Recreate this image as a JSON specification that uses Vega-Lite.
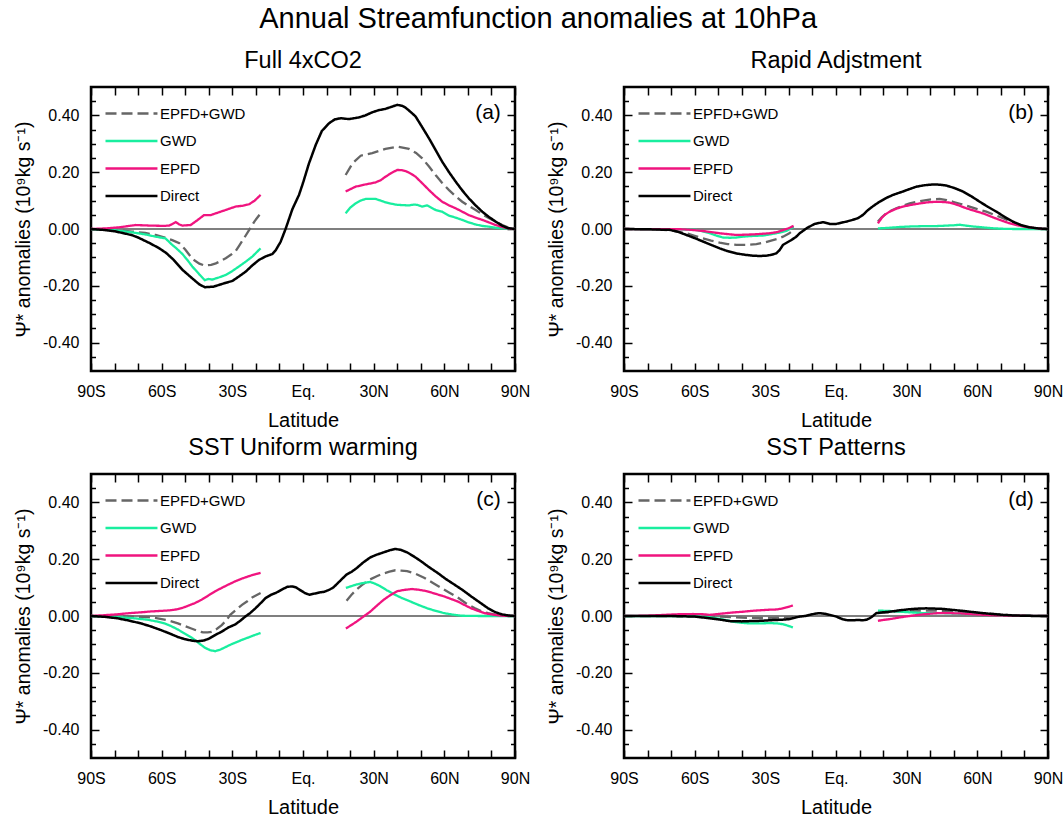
{
"$schema": "https://vega.github.io/schema/vega-lite/v6.json",
"padding": {"left": 12, "top": 4, "right": 5, "bottom": 5},
"title": {"text": "Annual Streamfunction anomalies at 10hPa", "fontSize": 29, "anchor": "middle", "offset": 14},
"columns": 2,
"spacing": {"row": 2, "column": 14},
"resolve": {"scale": {"x": "independent", "y": "independent", "color": "independent", "strokeDash": "independent"}, "legend": {"color": "independent", "strokeDash": "independent"}},
"config": {
  "font": "Liberation Sans",
  "view": {"stroke": "#000", "strokeWidth": 2.5},
  "axis": {"domain": false, "grid": false, "tickColor": "#000", "tickWidth": 1.5, "labelColor": "#000", "titleColor": "#000", "titleFontWeight": "normal", "labelFlush": false, "labelOverlap": false, "labelBound": false},
  "title": {"fontWeight": "normal", "color": "#000"},
  "legend": {"title": null, "orient": "top-left", "direction": "vertical", "columns": 1, "offset": 12.5, "padding": 0, "symbolType": "M-1,0H3.33", "symbolSize": 576, "symbolStrokeWidth": 2.3, "labelFontSize": 15, "labelOffset": 29, "rowPadding": 5.5, "labelColor": "#000"}
},
"datasets": {
"a": [
{"s":"Direct","h":"A","lat":-90,"v":0},{"s":"Direct","h":"A","lat":-85,"v":-0.003},{"s":"Direct","h":"A","lat":-80,"v":-0.008},{"s":"Direct","h":"A","lat":-75,"v":-0.017},{"s":"Direct","h":"A","lat":-72.5,"v":-0.022},{"s":"Direct","h":"A","lat":-70,"v":-0.03},{"s":"Direct","h":"A","lat":-65,"v":-0.05},{"s":"Direct","h":"A","lat":-61,"v":-0.068},{"s":"Direct","h":"A","lat":-58,"v":-0.085},{"s":"Direct","h":"A","lat":-55,"v":-0.108},{"s":"Direct","h":"A","lat":-51,"v":-0.145},{"s":"Direct","h":"A","lat":-47,"v":-0.174},{"s":"Direct","h":"A","lat":-44,"v":-0.195},{"s":"Direct","h":"A","lat":-41.7,"v":-0.205},{"s":"Direct","h":"A","lat":-38,"v":-0.203},{"s":"Direct","h":"A","lat":-35.7,"v":-0.197},{"s":"Direct","h":"A","lat":-33,"v":-0.19},{"s":"Direct","h":"A","lat":-30,"v":-0.183},{"s":"Direct","h":"A","lat":-27,"v":-0.166},{"s":"Direct","h":"A","lat":-24.3,"v":-0.15},{"s":"Direct","h":"A","lat":-21.5,"v":-0.128},{"s":"Direct","h":"A","lat":-18.7,"v":-0.109},{"s":"Direct","h":"A","lat":-16,"v":-0.097},{"s":"Direct","h":"A","lat":-13,"v":-0.088},{"s":"Direct","h":"A","lat":-11.6,"v":-0.075},{"s":"Direct","h":"A","lat":-9.5,"v":-0.045},{"s":"Direct","h":"A","lat":-7.4,"v":0},{"s":"Direct","h":"A","lat":-4.5,"v":0.07},{"s":"Direct","h":"A","lat":-1.7,"v":0.12},{"s":"Direct","h":"A","lat":0,"v":0.162},{"s":"Direct","h":"A","lat":2.5,"v":0.23},{"s":"Direct","h":"A","lat":5.4,"v":0.296},{"s":"Direct","h":"A","lat":8,"v":0.345},{"s":"Direct","h":"A","lat":11,"v":0.372},{"s":"Direct","h":"A","lat":13.5,"v":0.386},{"s":"Direct","h":"A","lat":16,"v":0.39},{"s":"Direct","h":"A","lat":19.5,"v":0.387},{"s":"Direct","h":"A","lat":23.8,"v":0.393},{"s":"Direct","h":"A","lat":26.5,"v":0.4},{"s":"Direct","h":"A","lat":29.4,"v":0.411},{"s":"Direct","h":"A","lat":32,"v":0.418},{"s":"Direct","h":"A","lat":35,"v":0.423},{"s":"Direct","h":"A","lat":37.5,"v":0.43},{"s":"Direct","h":"A","lat":40,"v":0.437},{"s":"Direct","h":"A","lat":42,"v":0.434},{"s":"Direct","h":"A","lat":43.6,"v":0.427},{"s":"Direct","h":"A","lat":46,"v":0.41},{"s":"Direct","h":"A","lat":47.8,"v":0.396},{"s":"Direct","h":"A","lat":50.5,"v":0.36},{"s":"Direct","h":"A","lat":53.5,"v":0.319},{"s":"Direct","h":"A","lat":56.3,"v":0.278},{"s":"Direct","h":"A","lat":59.1,"v":0.237},{"s":"Direct","h":"A","lat":62,"v":0.2},{"s":"Direct","h":"A","lat":64.8,"v":0.167},{"s":"Direct","h":"A","lat":67.6,"v":0.136},{"s":"Direct","h":"A","lat":70.4,"v":0.108},{"s":"Direct","h":"A","lat":73.3,"v":0.083},{"s":"Direct","h":"A","lat":76.1,"v":0.061},{"s":"Direct","h":"A","lat":79,"v":0.042},{"s":"Direct","h":"A","lat":81.8,"v":0.026},{"s":"Direct","h":"A","lat":84.5,"v":0.012},{"s":"Direct","h":"A","lat":87,"v":0.003},{"s":"Direct","h":"A","lat":90,"v":0},
{"s":"EPFD+GWD","h":"S","lat":-90,"v":0},{"s":"EPFD+GWD","h":"S","lat":-80,"v":-0.003},{"s":"EPFD+GWD","h":"S","lat":-72.5,"v":-0.009},{"s":"EPFD+GWD","h":"S","lat":-67,"v":-0.014},{"s":"EPFD+GWD","h":"S","lat":-62.6,"v":-0.021},{"s":"EPFD+GWD","h":"S","lat":-59,"v":-0.029},{"s":"EPFD+GWD","h":"S","lat":-55.5,"v":-0.039},{"s":"EPFD+GWD","h":"S","lat":-52.5,"v":-0.05},{"s":"EPFD+GWD","h":"S","lat":-50,"v":-0.072},{"s":"EPFD+GWD","h":"S","lat":-47,"v":-0.105},{"s":"EPFD+GWD","h":"S","lat":-44,"v":-0.122},{"s":"EPFD+GWD","h":"S","lat":-41.7,"v":-0.129},{"s":"EPFD+GWD","h":"S","lat":-39,"v":-0.126},{"s":"EPFD+GWD","h":"S","lat":-37,"v":-0.121},{"s":"EPFD+GWD","h":"S","lat":-35,"v":-0.113},{"s":"EPFD+GWD","h":"S","lat":-32.8,"v":-0.103},{"s":"EPFD+GWD","h":"S","lat":-30.5,"v":-0.09},{"s":"EPFD+GWD","h":"S","lat":-28.6,"v":-0.078},{"s":"EPFD+GWD","h":"S","lat":-27.2,"v":-0.06},{"s":"EPFD+GWD","h":"S","lat":-25,"v":-0.032},{"s":"EPFD+GWD","h":"S","lat":-22.9,"v":-0.004},{"s":"EPFD+GWD","h":"S","lat":-20.5,"v":0.028},{"s":"EPFD+GWD","h":"S","lat":-18,"v":0.055},
{"s":"EPFD+GWD","h":"N","lat":18.1,"v":0.19},{"s":"EPFD+GWD","h":"N","lat":21,"v":0.231},{"s":"EPFD+GWD","h":"N","lat":24.5,"v":0.258},{"s":"EPFD+GWD","h":"N","lat":29.4,"v":0.267},{"s":"EPFD+GWD","h":"N","lat":32,"v":0.274},{"s":"EPFD+GWD","h":"N","lat":35,"v":0.282},{"s":"EPFD+GWD","h":"N","lat":40,"v":0.29},{"s":"EPFD+GWD","h":"N","lat":45,"v":0.282},{"s":"EPFD+GWD","h":"N","lat":48,"v":0.268},{"s":"EPFD+GWD","h":"N","lat":50.6,"v":0.249},{"s":"EPFD+GWD","h":"N","lat":53.5,"v":0.22},{"s":"EPFD+GWD","h":"N","lat":56.3,"v":0.19},{"s":"EPFD+GWD","h":"N","lat":59,"v":0.163},{"s":"EPFD+GWD","h":"N","lat":62,"v":0.137},{"s":"EPFD+GWD","h":"N","lat":64.8,"v":0.115},{"s":"EPFD+GWD","h":"N","lat":67.6,"v":0.096},{"s":"EPFD+GWD","h":"N","lat":70.4,"v":0.081},{"s":"EPFD+GWD","h":"N","lat":73.3,"v":0.067},{"s":"EPFD+GWD","h":"N","lat":76,"v":0.052},{"s":"EPFD+GWD","h":"N","lat":79,"v":0.038},{"s":"EPFD+GWD","h":"N","lat":82,"v":0.025},{"s":"EPFD+GWD","h":"N","lat":84.6,"v":0.014},{"s":"EPFD+GWD","h":"N","lat":87,"v":0.006},{"s":"EPFD+GWD","h":"N","lat":90,"v":0},
{"s":"GWD","h":"S","lat":-90,"v":0},{"s":"GWD","h":"S","lat":-80,"v":-0.004},{"s":"GWD","h":"S","lat":-72.5,"v":-0.012},{"s":"GWD","h":"S","lat":-67,"v":-0.019},{"s":"GWD","h":"S","lat":-62.6,"v":-0.027},{"s":"GWD","h":"S","lat":-58.4,"v":-0.033},{"s":"GWD","h":"S","lat":-55.5,"v":-0.056},{"s":"GWD","h":"S","lat":-53.5,"v":-0.07},{"s":"GWD","h":"S","lat":-51.2,"v":-0.088},{"s":"GWD","h":"S","lat":-49,"v":-0.11},{"s":"GWD","h":"S","lat":-47,"v":-0.132},{"s":"GWD","h":"S","lat":-44,"v":-0.16},{"s":"GWD","h":"S","lat":-41.7,"v":-0.18},{"s":"GWD","h":"S","lat":-40,"v":-0.176},{"s":"GWD","h":"S","lat":-38.5,"v":-0.178},{"s":"GWD","h":"S","lat":-35.5,"v":-0.17},{"s":"GWD","h":"S","lat":-32.8,"v":-0.162},{"s":"GWD","h":"S","lat":-30,"v":-0.148},{"s":"GWD","h":"S","lat":-27.2,"v":-0.132},{"s":"GWD","h":"S","lat":-24.3,"v":-0.115},{"s":"GWD","h":"S","lat":-21.5,"v":-0.097},{"s":"GWD","h":"S","lat":-18,"v":-0.068},
{"s":"GWD","h":"N","lat":18.1,"v":0.055},{"s":"GWD","h":"N","lat":20,"v":0.075},{"s":"GWD","h":"N","lat":22.3,"v":0.09},{"s":"GWD","h":"N","lat":24.5,"v":0.1},{"s":"GWD","h":"N","lat":26.6,"v":0.106},{"s":"GWD","h":"N","lat":30.8,"v":0.106},{"s":"GWD","h":"N","lat":33,"v":0.1},{"s":"GWD","h":"N","lat":35,"v":0.094},{"s":"GWD","h":"N","lat":37.5,"v":0.089},{"s":"GWD","h":"N","lat":40,"v":0.085},{"s":"GWD","h":"N","lat":42.5,"v":0.084},{"s":"GWD","h":"N","lat":45,"v":0.083},{"s":"GWD","h":"N","lat":47,"v":0.086},{"s":"GWD","h":"N","lat":48.5,"v":0.085},{"s":"GWD","h":"N","lat":50.6,"v":0.079},{"s":"GWD","h":"N","lat":52.7,"v":0.083},{"s":"GWD","h":"N","lat":54.5,"v":0.075},{"s":"GWD","h":"N","lat":56.3,"v":0.067},{"s":"GWD","h":"N","lat":59.1,"v":0.061},{"s":"GWD","h":"N","lat":62,"v":0.047},{"s":"GWD","h":"N","lat":64.8,"v":0.04},{"s":"GWD","h":"N","lat":67.6,"v":0.032},{"s":"GWD","h":"N","lat":70.4,"v":0.023},{"s":"GWD","h":"N","lat":73.3,"v":0.016},{"s":"GWD","h":"N","lat":76,"v":0.011},{"s":"GWD","h":"N","lat":79,"v":0.008},{"s":"GWD","h":"N","lat":82,"v":0.004},{"s":"GWD","h":"N","lat":85,"v":0.002},{"s":"GWD","h":"N","lat":90,"v":0},
{"s":"EPFD","h":"S","lat":-90,"v":0},{"s":"EPFD","h":"S","lat":-84,"v":0.002},{"s":"EPFD","h":"S","lat":-78,"v":0.006},{"s":"EPFD","h":"S","lat":-71,"v":0.014},{"s":"EPFD","h":"S","lat":-65,"v":0.012},{"s":"EPFD","h":"S","lat":-59,"v":0.011},{"s":"EPFD","h":"S","lat":-56.8,"v":0.012},{"s":"EPFD","h":"S","lat":-54,"v":0.024},{"s":"EPFD","h":"S","lat":-52.5,"v":0.016},{"s":"EPFD","h":"S","lat":-51.2,"v":0.012},{"s":"EPFD","h":"S","lat":-47.7,"v":0.014},{"s":"EPFD","h":"S","lat":-45,"v":0.03},{"s":"EPFD","h":"S","lat":-42,"v":0.049},{"s":"EPFD","h":"S","lat":-39.2,"v":0.049},{"s":"EPFD","h":"S","lat":-36,"v":0.058},{"s":"EPFD","h":"S","lat":-32.8,"v":0.067},{"s":"EPFD","h":"S","lat":-28.6,"v":0.079},{"s":"EPFD","h":"S","lat":-25.5,"v":0.082},{"s":"EPFD","h":"S","lat":-22.9,"v":0.087},{"s":"EPFD","h":"S","lat":-20.5,"v":0.1},{"s":"EPFD","h":"S","lat":-18,"v":0.12},
{"s":"EPFD","h":"N","lat":18.1,"v":0.132},{"s":"EPFD","h":"N","lat":22.3,"v":0.149},{"s":"EPFD","h":"N","lat":26.6,"v":0.157},{"s":"EPFD","h":"N","lat":30.8,"v":0.164},{"s":"EPFD","h":"N","lat":33,"v":0.172},{"s":"EPFD","h":"N","lat":35,"v":0.184},{"s":"EPFD","h":"N","lat":37.5,"v":0.197},{"s":"EPFD","h":"N","lat":40,"v":0.208},{"s":"EPFD","h":"N","lat":42,"v":0.207},{"s":"EPFD","h":"N","lat":43.6,"v":0.204},{"s":"EPFD","h":"N","lat":46,"v":0.194},{"s":"EPFD","h":"N","lat":47.8,"v":0.184},{"s":"EPFD","h":"N","lat":50.5,"v":0.162},{"s":"EPFD","h":"N","lat":53.5,"v":0.137},{"s":"EPFD","h":"N","lat":56.3,"v":0.115},{"s":"EPFD","h":"N","lat":59.1,"v":0.096},{"s":"EPFD","h":"N","lat":62,"v":0.083},{"s":"EPFD","h":"N","lat":64.8,"v":0.073},{"s":"EPFD","h":"N","lat":67.6,"v":0.061},{"s":"EPFD","h":"N","lat":70.4,"v":0.049},{"s":"EPFD","h":"N","lat":73.3,"v":0.04},{"s":"EPFD","h":"N","lat":76.1,"v":0.032},{"s":"EPFD","h":"N","lat":79,"v":0.023},{"s":"EPFD","h":"N","lat":81.8,"v":0.014},{"s":"EPFD","h":"N","lat":85,"v":0.006},{"s":"EPFD","h":"N","lat":88,"v":0.001},{"s":"EPFD","h":"N","lat":90,"v":0}
],
"b": [
{"s":"Direct","h":"A","lat":-90,"v":0},{"s":"Direct","h":"A","lat":-80,"v":-0.001},{"s":"Direct","h":"A","lat":-70.6,"v":-0.003},{"s":"Direct","h":"A","lat":-67,"v":-0.01},{"s":"Direct","h":"A","lat":-63.5,"v":-0.021},{"s":"Direct","h":"A","lat":-60,"v":-0.032},{"s":"Direct","h":"A","lat":-56.5,"v":-0.044},{"s":"Direct","h":"A","lat":-53,"v":-0.056},{"s":"Direct","h":"A","lat":-49.4,"v":-0.068},{"s":"Direct","h":"A","lat":-46,"v":-0.078},{"s":"Direct","h":"A","lat":-42.3,"v":-0.086},{"s":"Direct","h":"A","lat":-38.5,"v":-0.091},{"s":"Direct","h":"A","lat":-35.2,"v":-0.094},{"s":"Direct","h":"A","lat":-32.4,"v":-0.095},{"s":"Direct","h":"A","lat":-29.6,"v":-0.094},{"s":"Direct","h":"A","lat":-27.5,"v":-0.091},{"s":"Direct","h":"A","lat":-25.4,"v":-0.086},{"s":"Direct","h":"A","lat":-24,"v":-0.075},{"s":"Direct","h":"A","lat":-22.5,"v":-0.056},{"s":"Direct","h":"A","lat":-19,"v":-0.039},{"s":"Direct","h":"A","lat":-17,"v":-0.028},{"s":"Direct","h":"A","lat":-15.4,"v":-0.015},{"s":"Direct","h":"A","lat":-12.6,"v":0.002},{"s":"Direct","h":"A","lat":-9.1,"v":0.018},{"s":"Direct","h":"A","lat":-5.5,"v":0.024},{"s":"Direct","h":"A","lat":-2.7,"v":0.018},{"s":"Direct","h":"A","lat":0.1,"v":0.018},{"s":"Direct","h":"A","lat":4.4,"v":0.026},{"s":"Direct","h":"A","lat":7,"v":0.032},{"s":"Direct","h":"A","lat":9.3,"v":0.038},{"s":"Direct","h":"A","lat":11.5,"v":0.05},{"s":"Direct","h":"A","lat":13.6,"v":0.067},{"s":"Direct","h":"A","lat":16,"v":0.082},{"s":"Direct","h":"A","lat":18.5,"v":0.096},{"s":"Direct","h":"A","lat":21.5,"v":0.11},{"s":"Direct","h":"A","lat":24.2,"v":0.12},{"s":"Direct","h":"A","lat":28.4,"v":0.132},{"s":"Direct","h":"A","lat":31,"v":0.14},{"s":"Direct","h":"A","lat":34.1,"v":0.149},{"s":"Direct","h":"A","lat":37.5,"v":0.154},{"s":"Direct","h":"A","lat":41.2,"v":0.157},{"s":"Direct","h":"A","lat":44,"v":0.156},{"s":"Direct","h":"A","lat":46.8,"v":0.153},{"s":"Direct","h":"A","lat":50,"v":0.145},{"s":"Direct","h":"A","lat":53.9,"v":0.132},{"s":"Direct","h":"A","lat":57.5,"v":0.115},{"s":"Direct","h":"A","lat":61,"v":0.096},{"s":"Direct","h":"A","lat":64.5,"v":0.078},{"s":"Direct","h":"A","lat":68.1,"v":0.061},{"s":"Direct","h":"A","lat":71.5,"v":0.043},{"s":"Direct","h":"A","lat":75.1,"v":0.026},{"s":"Direct","h":"A","lat":78.5,"v":0.014},{"s":"Direct","h":"A","lat":82.2,"v":0.006},{"s":"Direct","h":"A","lat":86,"v":0.002},{"s":"Direct","h":"A","lat":90,"v":0},
{"s":"EPFD+GWD","h":"S","lat":-90,"v":0},{"s":"EPFD+GWD","h":"S","lat":-75,"v":-0.002},{"s":"EPFD+GWD","h":"S","lat":-70,"v":-0.005},{"s":"EPFD+GWD","h":"S","lat":-63.5,"v":-0.015},{"s":"EPFD+GWD","h":"S","lat":-60,"v":-0.024},{"s":"EPFD+GWD","h":"S","lat":-56.5,"v":-0.033},{"s":"EPFD+GWD","h":"S","lat":-53,"v":-0.041},{"s":"EPFD+GWD","h":"S","lat":-49.4,"v":-0.048},{"s":"EPFD+GWD","h":"S","lat":-46,"v":-0.053},{"s":"EPFD+GWD","h":"S","lat":-42.3,"v":-0.056},{"s":"EPFD+GWD","h":"S","lat":-38,"v":-0.056},{"s":"EPFD+GWD","h":"S","lat":-33.8,"v":-0.053},{"s":"EPFD+GWD","h":"S","lat":-30,"v":-0.047},{"s":"EPFD+GWD","h":"S","lat":-26.8,"v":-0.039},{"s":"EPFD+GWD","h":"S","lat":-24.5,"v":-0.034},{"s":"EPFD+GWD","h":"S","lat":-22.5,"v":-0.027},{"s":"EPFD+GWD","h":"S","lat":-20,"v":-0.016},{"s":"EPFD+GWD","h":"S","lat":-18,"v":-0.004},
{"s":"EPFD+GWD","h":"N","lat":17.8,"v":0.026},{"s":"EPFD+GWD","h":"N","lat":19.5,"v":0.042},{"s":"EPFD+GWD","h":"N","lat":21.4,"v":0.055},{"s":"EPFD+GWD","h":"N","lat":23.5,"v":0.065},{"s":"EPFD+GWD","h":"N","lat":25.6,"v":0.073},{"s":"EPFD+GWD","h":"N","lat":28.5,"v":0.082},{"s":"EPFD+GWD","h":"N","lat":31.3,"v":0.09},{"s":"EPFD+GWD","h":"N","lat":34.8,"v":0.097},{"s":"EPFD+GWD","h":"N","lat":38.3,"v":0.102},{"s":"EPFD+GWD","h":"N","lat":41,"v":0.105},{"s":"EPFD+GWD","h":"N","lat":44,"v":0.106},{"s":"EPFD+GWD","h":"N","lat":47,"v":0.102},{"s":"EPFD+GWD","h":"N","lat":49.6,"v":0.096},{"s":"EPFD+GWD","h":"N","lat":53,"v":0.088},{"s":"EPFD+GWD","h":"N","lat":56.7,"v":0.079},{"s":"EPFD+GWD","h":"N","lat":60,"v":0.07},{"s":"EPFD+GWD","h":"N","lat":63.8,"v":0.061},{"s":"EPFD+GWD","h":"N","lat":67.5,"v":0.049},{"s":"EPFD+GWD","h":"N","lat":70.9,"v":0.038},{"s":"EPFD+GWD","h":"N","lat":74.5,"v":0.026},{"s":"EPFD+GWD","h":"N","lat":78,"v":0.014},{"s":"EPFD+GWD","h":"N","lat":81.5,"v":0.007},{"s":"EPFD+GWD","h":"N","lat":85,"v":0.002},{"s":"EPFD+GWD","h":"N","lat":90,"v":0},
{"s":"GWD","h":"S","lat":-90,"v":0},{"s":"GWD","h":"S","lat":-70,"v":-0.001},{"s":"GWD","h":"S","lat":-62,"v":-0.002},{"s":"GWD","h":"S","lat":-59.3,"v":-0.003},{"s":"GWD","h":"S","lat":-56,"v":-0.01},{"s":"GWD","h":"S","lat":-53.6,"v":-0.015},{"s":"GWD","h":"S","lat":-50.5,"v":-0.024},{"s":"GWD","h":"S","lat":-48,"v":-0.03},{"s":"GWD","h":"S","lat":-45,"v":-0.031},{"s":"GWD","h":"S","lat":-42.3,"v":-0.03},{"s":"GWD","h":"S","lat":-39.5,"v":-0.027},{"s":"GWD","h":"S","lat":-36.7,"v":-0.025},{"s":"GWD","h":"S","lat":-33.8,"v":-0.024},{"s":"GWD","h":"S","lat":-31,"v":-0.023},{"s":"GWD","h":"S","lat":-28,"v":-0.019},{"s":"GWD","h":"S","lat":-25.4,"v":-0.015},{"s":"GWD","h":"S","lat":-23,"v":-0.011},{"s":"GWD","h":"S","lat":-21.2,"v":-0.007},{"s":"GWD","h":"S","lat":-19.5,"v":0},{"s":"GWD","h":"S","lat":-18,"v":0.008},
{"s":"GWD","h":"N","lat":17.8,"v":0.002},{"s":"GWD","h":"N","lat":22,"v":0.004},{"s":"GWD","h":"N","lat":27,"v":0.007},{"s":"GWD","h":"N","lat":32,"v":0.009},{"s":"GWD","h":"N","lat":37,"v":0.01},{"s":"GWD","h":"N","lat":42,"v":0.01},{"s":"GWD","h":"N","lat":47,"v":0.012},{"s":"GWD","h":"N","lat":50,"v":0.013},{"s":"GWD","h":"N","lat":52.5,"v":0.015},{"s":"GWD","h":"N","lat":55,"v":0.012},{"s":"GWD","h":"N","lat":58,"v":0.009},{"s":"GWD","h":"N","lat":62,"v":0.006},{"s":"GWD","h":"N","lat":66,"v":0.003},{"s":"GWD","h":"N","lat":70,"v":0.001},{"s":"GWD","h":"N","lat":75,"v":0},{"s":"GWD","h":"N","lat":90,"v":0},
{"s":"EPFD","h":"S","lat":-90,"v":0},{"s":"EPFD","h":"S","lat":-65,"v":-0.001},{"s":"EPFD","h":"S","lat":-60,"v":-0.004},{"s":"EPFD","h":"S","lat":-56.5,"v":-0.007},{"s":"EPFD","h":"S","lat":-53,"v":-0.011},{"s":"EPFD","h":"S","lat":-49.4,"v":-0.015},{"s":"EPFD","h":"S","lat":-46,"v":-0.018},{"s":"EPFD","h":"S","lat":-42.3,"v":-0.021},{"s":"EPFD","h":"S","lat":-38.5,"v":-0.02},{"s":"EPFD","h":"S","lat":-35.2,"v":-0.019},{"s":"EPFD","h":"S","lat":-31.5,"v":-0.017},{"s":"EPFD","h":"S","lat":-28.2,"v":-0.015},{"s":"EPFD","h":"S","lat":-25,"v":-0.011},{"s":"EPFD","h":"S","lat":-22.5,"v":-0.004},{"s":"EPFD","h":"S","lat":-20,"v":0.003},{"s":"EPFD","h":"S","lat":-18,"v":0.011},
{"s":"EPFD","h":"N","lat":17.8,"v":0.02},{"s":"EPFD","h":"N","lat":19.5,"v":0.04},{"s":"EPFD","h":"N","lat":21,"v":0.052},{"s":"EPFD","h":"N","lat":22.8,"v":0.061},{"s":"EPFD","h":"N","lat":25.5,"v":0.071},{"s":"EPFD","h":"N","lat":28.4,"v":0.079},{"s":"EPFD","h":"N","lat":32,"v":0.085},{"s":"EPFD","h":"N","lat":35.5,"v":0.09},{"s":"EPFD","h":"N","lat":39,"v":0.094},{"s":"EPFD","h":"N","lat":42.6,"v":0.096},{"s":"EPFD","h":"N","lat":45.5,"v":0.095},{"s":"EPFD","h":"N","lat":48.3,"v":0.093},{"s":"EPFD","h":"N","lat":51.5,"v":0.085},{"s":"EPFD","h":"N","lat":55.3,"v":0.073},{"s":"EPFD","h":"N","lat":58.8,"v":0.064},{"s":"EPFD","h":"N","lat":62.4,"v":0.055},{"s":"EPFD","h":"N","lat":66,"v":0.043},{"s":"EPFD","h":"N","lat":69.5,"v":0.032},{"s":"EPFD","h":"N","lat":73,"v":0.022},{"s":"EPFD","h":"N","lat":76.6,"v":0.014},{"s":"EPFD","h":"N","lat":80,"v":0.008},{"s":"EPFD","h":"N","lat":83.6,"v":0.004},{"s":"EPFD","h":"N","lat":87,"v":0.001},{"s":"EPFD","h":"N","lat":90,"v":0}
],
"c": [
{"s":"Direct","h":"A","lat":-90,"v":0},{"s":"Direct","h":"A","lat":-84,"v":-0.003},{"s":"Direct","h":"A","lat":-78.8,"v":-0.008},{"s":"Direct","h":"A","lat":-74,"v":-0.016},{"s":"Direct","h":"A","lat":-68.8,"v":-0.026},{"s":"Direct","h":"A","lat":-64.5,"v":-0.037},{"s":"Direct","h":"A","lat":-60.2,"v":-0.05},{"s":"Direct","h":"A","lat":-56.5,"v":-0.062},{"s":"Direct","h":"A","lat":-53.1,"v":-0.074},{"s":"Direct","h":"A","lat":-50,"v":-0.082},{"s":"Direct","h":"A","lat":-47,"v":-0.087},{"s":"Direct","h":"A","lat":-44.5,"v":-0.089},{"s":"Direct","h":"A","lat":-42,"v":-0.086},{"s":"Direct","h":"A","lat":-40,"v":-0.08},{"s":"Direct","h":"A","lat":-37.3,"v":-0.067},{"s":"Direct","h":"A","lat":-34.5,"v":-0.055},{"s":"Direct","h":"A","lat":-31.6,"v":-0.04},{"s":"Direct","h":"A","lat":-28.8,"v":-0.03},{"s":"Direct","h":"A","lat":-26.5,"v":-0.016},{"s":"Direct","h":"A","lat":-24.5,"v":-0.002},{"s":"Direct","h":"A","lat":-22.5,"v":0.01},{"s":"Direct","h":"A","lat":-20.2,"v":0.027},{"s":"Direct","h":"A","lat":-18,"v":0.045},{"s":"Direct","h":"A","lat":-15.9,"v":0.063},{"s":"Direct","h":"A","lat":-13.5,"v":0.075},{"s":"Direct","h":"A","lat":-11.6,"v":0.081},{"s":"Direct","h":"A","lat":-9,"v":0.093},{"s":"Direct","h":"A","lat":-6.6,"v":0.103},{"s":"Direct","h":"A","lat":-4.5,"v":0.104},{"s":"Direct","h":"A","lat":-3,"v":0.101},{"s":"Direct","h":"A","lat":-1,"v":0.09},{"s":"Direct","h":"A","lat":1,"v":0.08},{"s":"Direct","h":"A","lat":2.7,"v":0.075},{"s":"Direct","h":"A","lat":5,"v":0.079},{"s":"Direct","h":"A","lat":7,"v":0.083},{"s":"Direct","h":"A","lat":9,"v":0.085},{"s":"Direct","h":"A","lat":11.3,"v":0.093},{"s":"Direct","h":"A","lat":12.8,"v":0.1},{"s":"Direct","h":"A","lat":14.2,"v":0.111},{"s":"Direct","h":"A","lat":16.5,"v":0.13},{"s":"Direct","h":"A","lat":18.5,"v":0.146},{"s":"Direct","h":"A","lat":20.5,"v":0.155},{"s":"Direct","h":"A","lat":22.7,"v":0.168},{"s":"Direct","h":"A","lat":25.5,"v":0.188},{"s":"Direct","h":"A","lat":28.5,"v":0.206},{"s":"Direct","h":"A","lat":31,"v":0.215},{"s":"Direct","h":"A","lat":34.2,"v":0.224},{"s":"Direct","h":"A","lat":37,"v":0.232},{"s":"Direct","h":"A","lat":39.2,"v":0.236},{"s":"Direct","h":"A","lat":41.5,"v":0.233},{"s":"Direct","h":"A","lat":44.2,"v":0.224},{"s":"Direct","h":"A","lat":47,"v":0.21},{"s":"Direct","h":"A","lat":49.9,"v":0.194},{"s":"Direct","h":"A","lat":53.5,"v":0.172},{"s":"Direct","h":"A","lat":57.1,"v":0.152},{"s":"Direct","h":"A","lat":60.5,"v":0.131},{"s":"Direct","h":"A","lat":64.2,"v":0.111},{"s":"Direct","h":"A","lat":68,"v":0.09},{"s":"Direct","h":"A","lat":71.4,"v":0.069},{"s":"Direct","h":"A","lat":75,"v":0.048},{"s":"Direct","h":"A","lat":78.6,"v":0.027},{"s":"Direct","h":"A","lat":81.5,"v":0.014},{"s":"Direct","h":"A","lat":84.3,"v":0.006},{"s":"Direct","h":"A","lat":87,"v":0.002},{"s":"Direct","h":"A","lat":90,"v":0},
{"s":"EPFD+GWD","h":"S","lat":-90,"v":0},{"s":"EPFD+GWD","h":"S","lat":-80,"v":-0.001},{"s":"EPFD+GWD","h":"S","lat":-71.7,"v":-0.002},{"s":"EPFD+GWD","h":"S","lat":-66,"v":-0.004},{"s":"EPFD+GWD","h":"S","lat":-61.7,"v":-0.008},{"s":"EPFD+GWD","h":"S","lat":-57,"v":-0.016},{"s":"EPFD+GWD","h":"S","lat":-53.1,"v":-0.026},{"s":"EPFD+GWD","h":"S","lat":-50,"v":-0.036},{"s":"EPFD+GWD","h":"S","lat":-47.4,"v":-0.044},{"s":"EPFD+GWD","h":"S","lat":-44.5,"v":-0.053},{"s":"EPFD+GWD","h":"S","lat":-42.4,"v":-0.058},{"s":"EPFD+GWD","h":"S","lat":-40.5,"v":-0.058},{"s":"EPFD+GWD","h":"S","lat":-38.8,"v":-0.056},{"s":"EPFD+GWD","h":"S","lat":-36.5,"v":-0.045},{"s":"EPFD+GWD","h":"S","lat":-34.5,"v":-0.032},{"s":"EPFD+GWD","h":"S","lat":-32.5,"v":-0.015},{"s":"EPFD+GWD","h":"S","lat":-30.9,"v":0.004},{"s":"EPFD+GWD","h":"S","lat":-28.5,"v":0.021},{"s":"EPFD+GWD","h":"S","lat":-25.9,"v":0.039},{"s":"EPFD+GWD","h":"S","lat":-23.5,"v":0.053},{"s":"EPFD+GWD","h":"S","lat":-21.6,"v":0.065},{"s":"EPFD+GWD","h":"S","lat":-19.8,"v":0.073},{"s":"EPFD+GWD","h":"S","lat":-18,"v":0.081},
{"s":"EPFD+GWD","h":"N","lat":18.5,"v":0.054},{"s":"EPFD+GWD","h":"N","lat":20.5,"v":0.074},{"s":"EPFD+GWD","h":"N","lat":22.7,"v":0.093},{"s":"EPFD+GWD","h":"N","lat":25.5,"v":0.112},{"s":"EPFD+GWD","h":"N","lat":28.5,"v":0.129},{"s":"EPFD+GWD","h":"N","lat":31.3,"v":0.14},{"s":"EPFD+GWD","h":"N","lat":34.2,"v":0.15},{"s":"EPFD+GWD","h":"N","lat":36.7,"v":0.156},{"s":"EPFD+GWD","h":"N","lat":39.2,"v":0.161},{"s":"EPFD+GWD","h":"N","lat":41.7,"v":0.16},{"s":"EPFD+GWD","h":"N","lat":44.2,"v":0.158},{"s":"EPFD+GWD","h":"N","lat":47.5,"v":0.15},{"s":"EPFD+GWD","h":"N","lat":51.4,"v":0.135},{"s":"EPFD+GWD","h":"N","lat":55,"v":0.117},{"s":"EPFD+GWD","h":"N","lat":58.5,"v":0.1},{"s":"EPFD+GWD","h":"N","lat":62,"v":0.083},{"s":"EPFD+GWD","h":"N","lat":65.7,"v":0.065},{"s":"EPFD+GWD","h":"N","lat":69,"v":0.046},{"s":"EPFD+GWD","h":"N","lat":72.8,"v":0.028},{"s":"EPFD+GWD","h":"N","lat":76,"v":0.016},{"s":"EPFD+GWD","h":"N","lat":78.6,"v":0.01},{"s":"EPFD+GWD","h":"N","lat":81.5,"v":0.005},{"s":"EPFD+GWD","h":"N","lat":84.3,"v":0.001},{"s":"EPFD+GWD","h":"N","lat":90,"v":0},
{"s":"GWD","h":"S","lat":-90,"v":0},{"s":"GWD","h":"S","lat":-80,"v":-0.003},{"s":"GWD","h":"S","lat":-71.7,"v":-0.008},{"s":"GWD","h":"S","lat":-66,"v":-0.013},{"s":"GWD","h":"S","lat":-61.7,"v":-0.02},{"s":"GWD","h":"S","lat":-58.5,"v":-0.027},{"s":"GWD","h":"S","lat":-55.9,"v":-0.036},{"s":"GWD","h":"S","lat":-53,"v":-0.048},{"s":"GWD","h":"S","lat":-50.2,"v":-0.062},{"s":"GWD","h":"S","lat":-48.5,"v":-0.07},{"s":"GWD","h":"S","lat":-46.6,"v":-0.08},{"s":"GWD","h":"S","lat":-44,"v":-0.097},{"s":"GWD","h":"S","lat":-41.6,"v":-0.112},{"s":"GWD","h":"S","lat":-39.5,"v":-0.12},{"s":"GWD","h":"S","lat":-37.3,"v":-0.124},{"s":"GWD","h":"S","lat":-35,"v":-0.118},{"s":"GWD","h":"S","lat":-33,"v":-0.11},{"s":"GWD","h":"S","lat":-31.6,"v":-0.104},{"s":"GWD","h":"S","lat":-28.8,"v":-0.094},{"s":"GWD","h":"S","lat":-25.9,"v":-0.084},{"s":"GWD","h":"S","lat":-23,"v":-0.075},{"s":"GWD","h":"S","lat":-20.5,"v":-0.067},{"s":"GWD","h":"S","lat":-18,"v":-0.06},
{"s":"GWD","h":"N","lat":18.2,"v":0.099},{"s":"GWD","h":"N","lat":20.5,"v":0.105},{"s":"GWD","h":"N","lat":22.7,"v":0.111},{"s":"GWD","h":"N","lat":25.5,"v":0.116},{"s":"GWD","h":"N","lat":28.5,"v":0.12},{"s":"GWD","h":"N","lat":30.5,"v":0.114},{"s":"GWD","h":"N","lat":32.8,"v":0.105},{"s":"GWD","h":"N","lat":35.5,"v":0.091},{"s":"GWD","h":"N","lat":38.5,"v":0.077},{"s":"GWD","h":"N","lat":42,"v":0.063},{"s":"GWD","h":"N","lat":45.6,"v":0.051},{"s":"GWD","h":"N","lat":49,"v":0.039},{"s":"GWD","h":"N","lat":52.8,"v":0.027},{"s":"GWD","h":"N","lat":56.3,"v":0.018},{"s":"GWD","h":"N","lat":59.9,"v":0.01},{"s":"GWD","h":"N","lat":63.5,"v":0.005},{"s":"GWD","h":"N","lat":67.1,"v":0.001},{"s":"GWD","h":"N","lat":75,"v":0},{"s":"GWD","h":"N","lat":90,"v":0},
{"s":"EPFD","h":"S","lat":-90,"v":0},{"s":"EPFD","h":"S","lat":-84,"v":0.003},{"s":"EPFD","h":"S","lat":-78.8,"v":0.006},{"s":"EPFD","h":"S","lat":-73.8,"v":0.01},{"s":"EPFD","h":"S","lat":-68.8,"v":0.013},{"s":"EPFD","h":"S","lat":-64.5,"v":0.016},{"s":"EPFD","h":"S","lat":-60.2,"v":0.018},{"s":"EPFD","h":"S","lat":-56.5,"v":0.02},{"s":"EPFD","h":"S","lat":-53.1,"v":0.024},{"s":"EPFD","h":"S","lat":-51,"v":0.029},{"s":"EPFD","h":"S","lat":-48.8,"v":0.036},{"s":"EPFD","h":"S","lat":-46,"v":0.045},{"s":"EPFD","h":"S","lat":-43.1,"v":0.057},{"s":"EPFD","h":"S","lat":-40.2,"v":0.072},{"s":"EPFD","h":"S","lat":-37.3,"v":0.087},{"s":"EPFD","h":"S","lat":-34.5,"v":0.099},{"s":"EPFD","h":"S","lat":-31.6,"v":0.111},{"s":"EPFD","h":"S","lat":-28.8,"v":0.122},{"s":"EPFD","h":"S","lat":-25.9,"v":0.132},{"s":"EPFD","h":"S","lat":-23.7,"v":0.138},{"s":"EPFD","h":"S","lat":-21.6,"v":0.144},{"s":"EPFD","h":"S","lat":-19.8,"v":0.148},{"s":"EPFD","h":"S","lat":-18,"v":0.152},
{"s":"EPFD","h":"N","lat":18.2,"v":-0.044},{"s":"EPFD","h":"N","lat":20.5,"v":-0.032},{"s":"EPFD","h":"N","lat":22.7,"v":-0.02},{"s":"EPFD","h":"N","lat":25.5,"v":-0.003},{"s":"EPFD","h":"N","lat":28.5,"v":0.015},{"s":"EPFD","h":"N","lat":31.3,"v":0.036},{"s":"EPFD","h":"N","lat":34.2,"v":0.057},{"s":"EPFD","h":"N","lat":37,"v":0.073},{"s":"EPFD","h":"N","lat":39.9,"v":0.087},{"s":"EPFD","h":"N","lat":43,"v":0.092},{"s":"EPFD","h":"N","lat":46.4,"v":0.095},{"s":"EPFD","h":"N","lat":49.5,"v":0.092},{"s":"EPFD","h":"N","lat":52.8,"v":0.087},{"s":"EPFD","h":"N","lat":56.3,"v":0.078},{"s":"EPFD","h":"N","lat":59.9,"v":0.069},{"s":"EPFD","h":"N","lat":62.8,"v":0.06},{"s":"EPFD","h":"N","lat":65.7,"v":0.051},{"s":"EPFD","h":"N","lat":68.5,"v":0.039},{"s":"EPFD","h":"N","lat":71.4,"v":0.027},{"s":"EPFD","h":"N","lat":74.3,"v":0.018},{"s":"EPFD","h":"N","lat":77.1,"v":0.01},{"s":"EPFD","h":"N","lat":80.5,"v":0.005},{"s":"EPFD","h":"N","lat":84.3,"v":0.001},{"s":"EPFD","h":"N","lat":90,"v":0}
],
"d": [
{"s":"Direct","h":"A","lat":-90,"v":0},{"s":"Direct","h":"A","lat":-70,"v":0},{"s":"Direct","h":"A","lat":-60,"v":-0.002},{"s":"Direct","h":"A","lat":-53.6,"v":-0.008},{"s":"Direct","h":"A","lat":-49,"v":-0.013},{"s":"Direct","h":"A","lat":-45.1,"v":-0.018},{"s":"Direct","h":"A","lat":-40,"v":-0.019},{"s":"Direct","h":"A","lat":-36.7,"v":-0.018},{"s":"Direct","h":"A","lat":-32,"v":-0.017},{"s":"Direct","h":"A","lat":-28.2,"v":-0.015},{"s":"Direct","h":"A","lat":-23,"v":-0.013},{"s":"Direct","h":"A","lat":-19.7,"v":-0.011},{"s":"Direct","h":"A","lat":-17.5,"v":-0.006},{"s":"Direct","h":"A","lat":-15.4,"v":-0.002},{"s":"Direct","h":"A","lat":-13,"v":0},{"s":"Direct","h":"A","lat":-11.2,"v":0.004},{"s":"Direct","h":"A","lat":-9,"v":0.008},{"s":"Direct","h":"A","lat":-6.9,"v":0.01},{"s":"Direct","h":"A","lat":-4.8,"v":0.008},{"s":"Direct","h":"A","lat":-2.7,"v":0.004},{"s":"Direct","h":"A","lat":0.1,"v":-0.002},{"s":"Direct","h":"A","lat":1.5,"v":-0.007},{"s":"Direct","h":"A","lat":3,"v":-0.012},{"s":"Direct","h":"A","lat":5,"v":-0.015},{"s":"Direct","h":"A","lat":7.2,"v":-0.015},{"s":"Direct","h":"A","lat":9.5,"v":-0.014},{"s":"Direct","h":"A","lat":11.5,"v":-0.015},{"s":"Direct","h":"A","lat":13,"v":-0.013},{"s":"Direct","h":"A","lat":14.3,"v":-0.008},{"s":"Direct","h":"A","lat":15.7,"v":0},{"s":"Direct","h":"A","lat":17.1,"v":0.01},{"s":"Direct","h":"A","lat":20,"v":0.013},{"s":"Direct","h":"A","lat":22.8,"v":0.015},{"s":"Direct","h":"A","lat":27,"v":0.02},{"s":"Direct","h":"A","lat":31.3,"v":0.024},{"s":"Direct","h":"A","lat":35,"v":0.026},{"s":"Direct","h":"A","lat":38.3,"v":0.027},{"s":"Direct","h":"A","lat":42,"v":0.026},{"s":"Direct","h":"A","lat":45.4,"v":0.025},{"s":"Direct","h":"A","lat":50,"v":0.021},{"s":"Direct","h":"A","lat":53.9,"v":0.018},{"s":"Direct","h":"A","lat":58,"v":0.014},{"s":"Direct","h":"A","lat":62.4,"v":0.01},{"s":"Direct","h":"A","lat":66.5,"v":0.007},{"s":"Direct","h":"A","lat":70.9,"v":0.004},{"s":"Direct","h":"A","lat":75,"v":0.002},{"s":"Direct","h":"A","lat":79.4,"v":0.001},{"s":"Direct","h":"A","lat":85,"v":0},{"s":"Direct","h":"A","lat":90,"v":0},
{"s":"EPFD+GWD","h":"S","lat":-90,"v":0},{"s":"EPFD+GWD","h":"S","lat":-60,"v":-0.001},{"s":"EPFD+GWD","h":"S","lat":-52,"v":-0.002},{"s":"EPFD+GWD","h":"S","lat":-46.6,"v":-0.003},{"s":"EPFD+GWD","h":"S","lat":-40,"v":-0.006},{"s":"EPFD+GWD","h":"S","lat":-33,"v":-0.007},{"s":"EPFD+GWD","h":"S","lat":-27,"v":-0.007},{"s":"EPFD+GWD","h":"S","lat":-22,"v":-0.005},{"s":"EPFD+GWD","h":"S","lat":-18.3,"v":-0.002},
{"s":"EPFD+GWD","h":"N","lat":17.8,"v":0.01},{"s":"EPFD+GWD","h":"N","lat":22,"v":0.013},{"s":"EPFD+GWD","h":"N","lat":27,"v":0.016},{"s":"EPFD+GWD","h":"N","lat":31.3,"v":0.018},{"s":"EPFD+GWD","h":"N","lat":37,"v":0.019},{"s":"EPFD+GWD","h":"N","lat":42,"v":0.019},{"s":"EPFD+GWD","h":"N","lat":47,"v":0.017},{"s":"EPFD+GWD","h":"N","lat":52,"v":0.015},{"s":"EPFD+GWD","h":"N","lat":57,"v":0.013},{"s":"EPFD+GWD","h":"N","lat":62,"v":0.01},{"s":"EPFD+GWD","h":"N","lat":67,"v":0.007},{"s":"EPFD+GWD","h":"N","lat":72,"v":0.004},{"s":"EPFD+GWD","h":"N","lat":78,"v":0.002},{"s":"EPFD+GWD","h":"N","lat":84,"v":0.001},{"s":"EPFD+GWD","h":"N","lat":90,"v":0},
{"s":"GWD","h":"S","lat":-90,"v":0},{"s":"GWD","h":"S","lat":-60,"v":0},{"s":"GWD","h":"S","lat":-55,"v":-0.003},{"s":"GWD","h":"S","lat":-50.8,"v":-0.008},{"s":"GWD","h":"S","lat":-47,"v":-0.014},{"s":"GWD","h":"S","lat":-43.7,"v":-0.02},{"s":"GWD","h":"S","lat":-40,"v":-0.024},{"s":"GWD","h":"S","lat":-36.7,"v":-0.026},{"s":"GWD","h":"S","lat":-32,"v":-0.026},{"s":"GWD","h":"S","lat":-28.2,"v":-0.025},{"s":"GWD","h":"S","lat":-25,"v":-0.026},{"s":"GWD","h":"S","lat":-22.5,"v":-0.029},{"s":"GWD","h":"S","lat":-20.5,"v":-0.034},{"s":"GWD","h":"S","lat":-18.3,"v":-0.04},
{"s":"GWD","h":"N","lat":17.8,"v":0.019},{"s":"GWD","h":"N","lat":22,"v":0.018},{"s":"GWD","h":"N","lat":26,"v":0.016},{"s":"GWD","h":"N","lat":31.3,"v":0.013},{"s":"GWD","h":"N","lat":37,"v":0.01},{"s":"GWD","h":"N","lat":45,"v":0.01},{"s":"GWD","h":"N","lat":52,"v":0.008},{"s":"GWD","h":"N","lat":60,"v":0.006},{"s":"GWD","h":"N","lat":67,"v":0.004},{"s":"GWD","h":"N","lat":74,"v":0.002},{"s":"GWD","h":"N","lat":80,"v":0.001},{"s":"GWD","h":"N","lat":90,"v":0},
{"s":"EPFD","h":"S","lat":-90,"v":0},{"s":"EPFD","h":"S","lat":-82,"v":0.001},{"s":"EPFD","h":"S","lat":-75,"v":0.003},{"s":"EPFD","h":"S","lat":-67.8,"v":0.006},{"s":"EPFD","h":"S","lat":-60.7,"v":0.007},{"s":"EPFD","h":"S","lat":-56,"v":0.006},{"s":"EPFD","h":"S","lat":-53.6,"v":0.004},{"s":"EPFD","h":"S","lat":-50,"v":0.007},{"s":"EPFD","h":"S","lat":-46.6,"v":0.01},{"s":"EPFD","h":"S","lat":-43,"v":0.013},{"s":"EPFD","h":"S","lat":-39.5,"v":0.015},{"s":"EPFD","h":"S","lat":-36,"v":0.018},{"s":"EPFD","h":"S","lat":-32.4,"v":0.02},{"s":"EPFD","h":"S","lat":-28.5,"v":0.022},{"s":"EPFD","h":"S","lat":-25.3,"v":0.023},{"s":"EPFD","h":"S","lat":-23,"v":0.026},{"s":"EPFD","h":"S","lat":-21.1,"v":0.03},{"s":"EPFD","h":"S","lat":-18.3,"v":0.037},
{"s":"EPFD","h":"N","lat":17.8,"v":-0.017},{"s":"EPFD","h":"N","lat":20,"v":-0.014},{"s":"EPFD","h":"N","lat":22.8,"v":-0.011},{"s":"EPFD","h":"N","lat":27,"v":-0.005},{"s":"EPFD","h":"N","lat":31.3,"v":0},{"s":"EPFD","h":"N","lat":35,"v":0.004},{"s":"EPFD","h":"N","lat":38.5,"v":0.007},{"s":"EPFD","h":"N","lat":43,"v":0.01},{"s":"EPFD","h":"N","lat":48,"v":0.01},{"s":"EPFD","h":"N","lat":53,"v":0.009},{"s":"EPFD","h":"N","lat":58,"v":0.006},{"s":"EPFD","h":"N","lat":63,"v":0.004},{"s":"EPFD","h":"N","lat":70,"v":0.002},{"s":"EPFD","h":"N","lat":78,"v":0.001},{"s":"EPFD","h":"N","lat":90,"v":0}
]
},
"concat": [
{
  "width": 424, "height": 284,
  "title": {"text": "Full 4xCO2", "frame": "group", "anchor": "middle", "fontSize": 23.5, "offset": 14},
  "layer": [
    {"data": {"values": [{}]}, "mark": {"type": "rule", "color": "#555", "strokeWidth": 1.4},
     "encoding": {"y": {"datum": 0, "type": "quantitative", "scale": {"domain": [-0.5, 0.5], "nice": false, "zero": false}, "axis": {"orient": "left", "values": [-0.45,-0.35,-0.3,-0.25,-0.15,-0.1,-0.05,0.05,0.1,0.15,0.25,0.3,0.35,0.45], "labels": false, "tickSize": -4.5, "title": null}}}},
    {"data": {"name": "a"}, "transform": [{"filter": "datum.s != 'Direct'"}], "mark": {"type": "line", "strokeWidth": 2.3},
     "encoding": {
       "x": {"field": "lat", "type": "quantitative", "scale": {"domain": [-90, 90], "nice": false, "zero": false}, "axis": {"orient": "bottom", "values": [-90,-80,-70,-60,-50,-40,-30,-20,-10,0,10,20,30,40,50,60,70,80,90], "labelExpr": "datum.value % 30 != 0 ? '' : datum.value == 0 ? 'Eq.' : datum.value < 0 ? (-datum.value) + 'S' : datum.value + 'N'", "tickSize": -8, "labelPadding": 20, "labelFontSize": 16, "title": "Latitude", "titleFontSize": 20, "titlePadding": 11}},
       "y": {"field": "v", "type": "quantitative", "scale": {"domain": [-0.5, 0.5], "nice": false, "zero": false}, "axis": {"orient": "left", "values": [-0.4,-0.2,0,0.2,0.4], "labelExpr": "replace(format(datum.value, '.2f'), '−', '-')", "tickSize": -8, "labelPadding": 20, "labelFontSize": 16, "title": "Ψ* anomalies (10⁹kg s⁻¹)", "titleFontSize": 19.5, "titlePadding": 9}},
       "color": {"field": "s", "type": "nominal", "scale": {"domain": ["EPFD+GWD","GWD","EPFD","Direct"], "range": ["#666666","#19ee9f","#f0147f","#000000"]}},
       "strokeDash": {"field": "s", "type": "nominal", "scale": {"domain": ["EPFD+GWD","GWD","EPFD","Direct"], "range": [[11,5],[1,0],[1,0],[1,0]]}},
       "detail": {"field": "h"}}},
    {"data": {"name": "a"}, "transform": [{"filter": "datum.s == 'Direct'"}], "mark": {"type": "line", "strokeWidth": 2.5},
     "encoding": {
       "x": {"field": "lat", "type": "quantitative", "scale": {"domain": [-90, 90], "nice": false, "zero": false}, "axis": {"orient": "top", "values": [-90,-80,-70,-60,-50,-40,-30,-20,-10,0,10,20,30,40,50,60,70,80,90], "labels": false, "tickSize": -8, "title": null}},
       "y": {"field": "v", "type": "quantitative", "scale": {"domain": [-0.5, 0.5], "nice": false, "zero": false}, "axis": {"orient": "right", "values": [-0.4,-0.2,0,0.2,0.4], "labels": false, "tickSize": -8, "title": null}},
       "color": {"field": "s", "type": "nominal", "scale": {"domain": ["EPFD+GWD","GWD","EPFD","Direct"], "range": ["#666666","#19ee9f","#f0147f","#000000"]}},
       "strokeDash": {"field": "s", "type": "nominal", "scale": {"domain": ["EPFD+GWD","GWD","EPFD","Direct"], "range": [[11,5],[1,0],[1,0],[1,0]]}}}},
    {"data": {"values": [{"lab": "(a)"}]}, "mark": {"type": "text", "align": "right", "baseline": "middle", "fontSize": 21, "color": "#000"},
     "encoding": {
       "text": {"field": "lab"},
       "x": {"datum": 84, "type": "quantitative", "scale": {"domain": [-90, 90], "nice": false, "zero": false}, "axis": null},
       "y": {"datum": 0.41, "type": "quantitative", "scale": {"domain": [-0.5, 0.5], "nice": false, "zero": false}, "axis": {"orient": "right", "values": [-0.45,-0.35,-0.3,-0.25,-0.15,-0.1,-0.05,0.05,0.1,0.15,0.25,0.3,0.35,0.45], "labels": false, "tickSize": -4.5, "title": null}}}}
  ],
  "resolve": {"axis": {"x": "independent", "y": "independent"}}
},
{
  "width": 424, "height": 284,
  "title": {"text": "Rapid Adjstment", "frame": "group", "anchor": "middle", "fontSize": 23.5, "offset": 14},
  "layer": [
    {"data": {"values": [{}]}, "mark": {"type": "rule", "color": "#555", "strokeWidth": 1.4},
     "encoding": {"y": {"datum": 0, "type": "quantitative", "scale": {"domain": [-0.5, 0.5], "nice": false, "zero": false}, "axis": {"orient": "left", "values": [-0.45,-0.35,-0.3,-0.25,-0.15,-0.1,-0.05,0.05,0.1,0.15,0.25,0.3,0.35,0.45], "labels": false, "tickSize": -4.5, "title": null}}}},
    {"data": {"name": "b"}, "transform": [{"filter": "datum.s != 'Direct'"}], "mark": {"type": "line", "strokeWidth": 2.3},
     "encoding": {
       "x": {"field": "lat", "type": "quantitative", "scale": {"domain": [-90, 90], "nice": false, "zero": false}, "axis": {"orient": "bottom", "values": [-90,-80,-70,-60,-50,-40,-30,-20,-10,0,10,20,30,40,50,60,70,80,90], "labelExpr": "datum.value % 30 != 0 ? '' : datum.value == 0 ? 'Eq.' : datum.value < 0 ? (-datum.value) + 'S' : datum.value + 'N'", "tickSize": -8, "labelPadding": 20, "labelFontSize": 16, "title": "Latitude", "titleFontSize": 20, "titlePadding": 11}},
       "y": {"field": "v", "type": "quantitative", "scale": {"domain": [-0.5, 0.5], "nice": false, "zero": false}, "axis": {"orient": "left", "values": [-0.4,-0.2,0,0.2,0.4], "labelExpr": "replace(format(datum.value, '.2f'), '−', '-')", "tickSize": -8, "labelPadding": 20, "labelFontSize": 16, "title": "Ψ* anomalies (10⁹kg s⁻¹)", "titleFontSize": 19.5, "titlePadding": 9}},
       "color": {"field": "s", "type": "nominal", "scale": {"domain": ["EPFD+GWD","GWD","EPFD","Direct"], "range": ["#666666","#19ee9f","#f0147f","#000000"]}},
       "strokeDash": {"field": "s", "type": "nominal", "scale": {"domain": ["EPFD+GWD","GWD","EPFD","Direct"], "range": [[11,5],[1,0],[1,0],[1,0]]}},
       "detail": {"field": "h"}}},
    {"data": {"name": "b"}, "transform": [{"filter": "datum.s == 'Direct'"}], "mark": {"type": "line", "strokeWidth": 2.5},
     "encoding": {
       "x": {"field": "lat", "type": "quantitative", "scale": {"domain": [-90, 90], "nice": false, "zero": false}, "axis": {"orient": "top", "values": [-90,-80,-70,-60,-50,-40,-30,-20,-10,0,10,20,30,40,50,60,70,80,90], "labels": false, "tickSize": -8, "title": null}},
       "y": {"field": "v", "type": "quantitative", "scale": {"domain": [-0.5, 0.5], "nice": false, "zero": false}, "axis": {"orient": "right", "values": [-0.4,-0.2,0,0.2,0.4], "labels": false, "tickSize": -8, "title": null}},
       "color": {"field": "s", "type": "nominal", "scale": {"domain": ["EPFD+GWD","GWD","EPFD","Direct"], "range": ["#666666","#19ee9f","#f0147f","#000000"]}},
       "strokeDash": {"field": "s", "type": "nominal", "scale": {"domain": ["EPFD+GWD","GWD","EPFD","Direct"], "range": [[11,5],[1,0],[1,0],[1,0]]}}}},
    {"data": {"values": [{"lab": "(b)"}]}, "mark": {"type": "text", "align": "right", "baseline": "middle", "fontSize": 21, "color": "#000"},
     "encoding": {
       "text": {"field": "lab"},
       "x": {"datum": 84, "type": "quantitative", "scale": {"domain": [-90, 90], "nice": false, "zero": false}, "axis": null},
       "y": {"datum": 0.41, "type": "quantitative", "scale": {"domain": [-0.5, 0.5], "nice": false, "zero": false}, "axis": {"orient": "right", "values": [-0.45,-0.35,-0.3,-0.25,-0.15,-0.1,-0.05,0.05,0.1,0.15,0.25,0.3,0.35,0.45], "labels": false, "tickSize": -4.5, "title": null}}}}
  ],
  "resolve": {"axis": {"x": "independent", "y": "independent"}}
},
{
  "width": 424, "height": 284,
  "title": {"text": "SST Uniform warming", "frame": "group", "anchor": "middle", "fontSize": 23.5, "offset": 14},
  "layer": [
    {"data": {"values": [{}]}, "mark": {"type": "rule", "color": "#555", "strokeWidth": 1.4},
     "encoding": {"y": {"datum": 0, "type": "quantitative", "scale": {"domain": [-0.5, 0.5], "nice": false, "zero": false}, "axis": {"orient": "left", "values": [-0.45,-0.35,-0.3,-0.25,-0.15,-0.1,-0.05,0.05,0.1,0.15,0.25,0.3,0.35,0.45], "labels": false, "tickSize": -4.5, "title": null}}}},
    {"data": {"name": "c"}, "transform": [{"filter": "datum.s != 'Direct'"}], "mark": {"type": "line", "strokeWidth": 2.3},
     "encoding": {
       "x": {"field": "lat", "type": "quantitative", "scale": {"domain": [-90, 90], "nice": false, "zero": false}, "axis": {"orient": "bottom", "values": [-90,-80,-70,-60,-50,-40,-30,-20,-10,0,10,20,30,40,50,60,70,80,90], "labelExpr": "datum.value % 30 != 0 ? '' : datum.value == 0 ? 'Eq.' : datum.value < 0 ? (-datum.value) + 'S' : datum.value + 'N'", "tickSize": -8, "labelPadding": 20, "labelFontSize": 16, "title": "Latitude", "titleFontSize": 20, "titlePadding": 11}},
       "y": {"field": "v", "type": "quantitative", "scale": {"domain": [-0.5, 0.5], "nice": false, "zero": false}, "axis": {"orient": "left", "values": [-0.4,-0.2,0,0.2,0.4], "labelExpr": "replace(format(datum.value, '.2f'), '−', '-')", "tickSize": -8, "labelPadding": 20, "labelFontSize": 16, "title": "Ψ* anomalies (10⁹kg s⁻¹)", "titleFontSize": 19.5, "titlePadding": 9}},
       "color": {"field": "s", "type": "nominal", "scale": {"domain": ["EPFD+GWD","GWD","EPFD","Direct"], "range": ["#666666","#19ee9f","#f0147f","#000000"]}},
       "strokeDash": {"field": "s", "type": "nominal", "scale": {"domain": ["EPFD+GWD","GWD","EPFD","Direct"], "range": [[11,5],[1,0],[1,0],[1,0]]}},
       "detail": {"field": "h"}}},
    {"data": {"name": "c"}, "transform": [{"filter": "datum.s == 'Direct'"}], "mark": {"type": "line", "strokeWidth": 2.5},
     "encoding": {
       "x": {"field": "lat", "type": "quantitative", "scale": {"domain": [-90, 90], "nice": false, "zero": false}, "axis": {"orient": "top", "values": [-90,-80,-70,-60,-50,-40,-30,-20,-10,0,10,20,30,40,50,60,70,80,90], "labels": false, "tickSize": -8, "title": null}},
       "y": {"field": "v", "type": "quantitative", "scale": {"domain": [-0.5, 0.5], "nice": false, "zero": false}, "axis": {"orient": "right", "values": [-0.4,-0.2,0,0.2,0.4], "labels": false, "tickSize": -8, "title": null}},
       "color": {"field": "s", "type": "nominal", "scale": {"domain": ["EPFD+GWD","GWD","EPFD","Direct"], "range": ["#666666","#19ee9f","#f0147f","#000000"]}},
       "strokeDash": {"field": "s", "type": "nominal", "scale": {"domain": ["EPFD+GWD","GWD","EPFD","Direct"], "range": [[11,5],[1,0],[1,0],[1,0]]}}}},
    {"data": {"values": [{"lab": "(c)"}]}, "mark": {"type": "text", "align": "right", "baseline": "middle", "fontSize": 21, "color": "#000"},
     "encoding": {
       "text": {"field": "lab"},
       "x": {"datum": 84, "type": "quantitative", "scale": {"domain": [-90, 90], "nice": false, "zero": false}, "axis": null},
       "y": {"datum": 0.41, "type": "quantitative", "scale": {"domain": [-0.5, 0.5], "nice": false, "zero": false}, "axis": {"orient": "right", "values": [-0.45,-0.35,-0.3,-0.25,-0.15,-0.1,-0.05,0.05,0.1,0.15,0.25,0.3,0.35,0.45], "labels": false, "tickSize": -4.5, "title": null}}}}
  ],
  "resolve": {"axis": {"x": "independent", "y": "independent"}}
},
{
  "width": 424, "height": 284,
  "title": {"text": "SST Patterns", "frame": "group", "anchor": "middle", "fontSize": 23.5, "offset": 14},
  "layer": [
    {"data": {"values": [{}]}, "mark": {"type": "rule", "color": "#555", "strokeWidth": 1.4},
     "encoding": {"y": {"datum": 0, "type": "quantitative", "scale": {"domain": [-0.5, 0.5], "nice": false, "zero": false}, "axis": {"orient": "left", "values": [-0.45,-0.35,-0.3,-0.25,-0.15,-0.1,-0.05,0.05,0.1,0.15,0.25,0.3,0.35,0.45], "labels": false, "tickSize": -4.5, "title": null}}}},
    {"data": {"name": "d"}, "transform": [{"filter": "datum.s != 'Direct'"}], "mark": {"type": "line", "strokeWidth": 2.3},
     "encoding": {
       "x": {"field": "lat", "type": "quantitative", "scale": {"domain": [-90, 90], "nice": false, "zero": false}, "axis": {"orient": "bottom", "values": [-90,-80,-70,-60,-50,-40,-30,-20,-10,0,10,20,30,40,50,60,70,80,90], "labelExpr": "datum.value % 30 != 0 ? '' : datum.value == 0 ? 'Eq.' : datum.value < 0 ? (-datum.value) + 'S' : datum.value + 'N'", "tickSize": -8, "labelPadding": 20, "labelFontSize": 16, "title": "Latitude", "titleFontSize": 20, "titlePadding": 11}},
       "y": {"field": "v", "type": "quantitative", "scale": {"domain": [-0.5, 0.5], "nice": false, "zero": false}, "axis": {"orient": "left", "values": [-0.4,-0.2,0,0.2,0.4], "labelExpr": "replace(format(datum.value, '.2f'), '−', '-')", "tickSize": -8, "labelPadding": 20, "labelFontSize": 16, "title": "Ψ* anomalies (10⁹kg s⁻¹)", "titleFontSize": 19.5, "titlePadding": 9}},
       "color": {"field": "s", "type": "nominal", "scale": {"domain": ["EPFD+GWD","GWD","EPFD","Direct"], "range": ["#666666","#19ee9f","#f0147f","#000000"]}},
       "strokeDash": {"field": "s", "type": "nominal", "scale": {"domain": ["EPFD+GWD","GWD","EPFD","Direct"], "range": [[11,5],[1,0],[1,0],[1,0]]}},
       "detail": {"field": "h"}}},
    {"data": {"name": "d"}, "transform": [{"filter": "datum.s == 'Direct'"}], "mark": {"type": "line", "strokeWidth": 2.5},
     "encoding": {
       "x": {"field": "lat", "type": "quantitative", "scale": {"domain": [-90, 90], "nice": false, "zero": false}, "axis": {"orient": "top", "values": [-90,-80,-70,-60,-50,-40,-30,-20,-10,0,10,20,30,40,50,60,70,80,90], "labels": false, "tickSize": -8, "title": null}},
       "y": {"field": "v", "type": "quantitative", "scale": {"domain": [-0.5, 0.5], "nice": false, "zero": false}, "axis": {"orient": "right", "values": [-0.4,-0.2,0,0.2,0.4], "labels": false, "tickSize": -8, "title": null}},
       "color": {"field": "s", "type": "nominal", "scale": {"domain": ["EPFD+GWD","GWD","EPFD","Direct"], "range": ["#666666","#19ee9f","#f0147f","#000000"]}},
       "strokeDash": {"field": "s", "type": "nominal", "scale": {"domain": ["EPFD+GWD","GWD","EPFD","Direct"], "range": [[11,5],[1,0],[1,0],[1,0]]}}}},
    {"data": {"values": [{"lab": "(d)"}]}, "mark": {"type": "text", "align": "right", "baseline": "middle", "fontSize": 21, "color": "#000"},
     "encoding": {
       "text": {"field": "lab"},
       "x": {"datum": 84, "type": "quantitative", "scale": {"domain": [-90, 90], "nice": false, "zero": false}, "axis": null},
       "y": {"datum": 0.41, "type": "quantitative", "scale": {"domain": [-0.5, 0.5], "nice": false, "zero": false}, "axis": {"orient": "right", "values": [-0.45,-0.35,-0.3,-0.25,-0.15,-0.1,-0.05,0.05,0.1,0.15,0.25,0.3,0.35,0.45], "labels": false, "tickSize": -4.5, "title": null}}}}
  ],
  "resolve": {"axis": {"x": "independent", "y": "independent"}}
}
]
}
